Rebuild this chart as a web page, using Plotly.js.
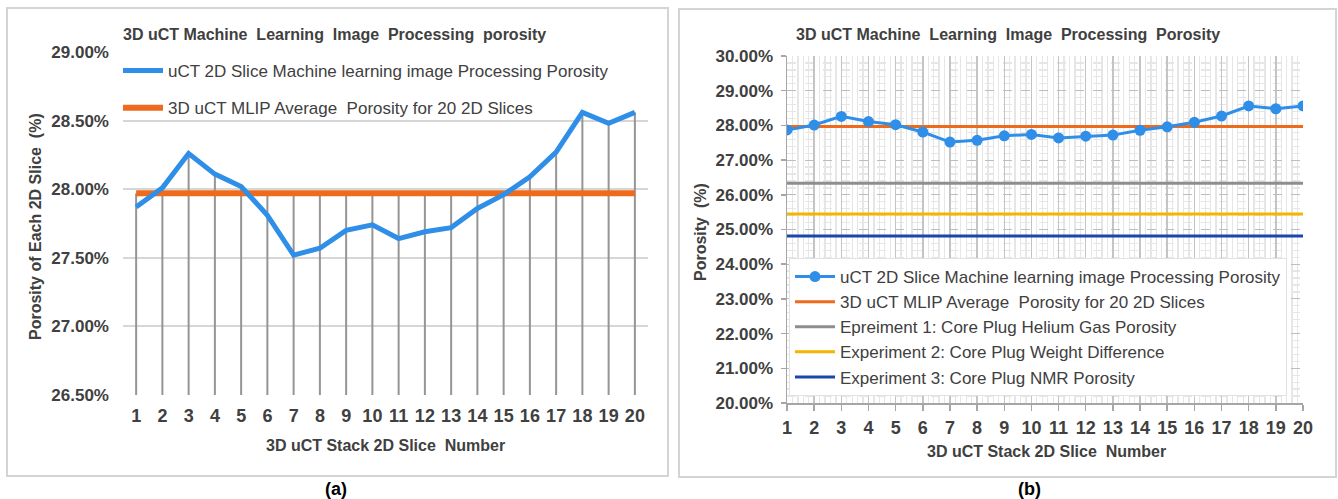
<!DOCTYPE html>
<html>
<head>
<meta charset="utf-8">
<script src="https://cdn.plot.ly/plotly-3.0.1.min.js"></script>
<style>
  html, body { margin: 0; padding: 0; background: #ffffff; }
  #chart { width: 1338px; height: 499px; }
</style>
</head>
<body>
<div id="chart"></div>
<script>
// ---------- data ----------
const slices = [1,2,3,4,5,6,7,8,9,10,11,12,13,14,15,16,17,18,19,20];
const slicePorosity = [27.87,28.01,28.26,28.11,28.02,27.81,27.52,27.57,27.70,27.74,
                       27.64,27.69,27.72,27.86,27.96,28.09,28.27,28.56,28.48,28.56];
const averagePorosity = 27.97;
const exp1HeliumPorosity = 26.33;
const exp2WeightDiffPorosity = 25.45;
const exp3NmrPorosity = 24.81;

const seriesNames = [
  "uCT 2D Slice Machine learning image Processing Porosity",
  "3D uCT MLIP Average  Porosity for 20 2D Slices",
  "Epreiment 1: Core Plug Helium Gas Porosity",
  "Experiment 2: Core Plug Weight Difference",
  "Experiment 3: Core Plug NMR Porosity"
];
const titleA = "3D uCT Machine  Learning  Image  Processing  porosity";
const titleB = "3D uCT Machine  Learning  Image  Processing  Porosity";
const xTitle = "3D uCT Stack 2D Slice  Number";
const yTitleA = "Porosity of Each 2D Slice  (%)";
const yTitleB = "Porosity  (%)";
const yRangeA = [26.5, 29.0];
const yRangeB = [20, 30];

// ---------- style ----------
const FONT = "Liberation Sans, Arial, sans-serif";
const TXT = "#404040";
const W = 1338, H = 499;
const px = v => v / W;
const py = v => 1 - v / H;

const C_BLUE = "#2F8FE8";
const C_ORANGE = "#EE6A1C";
const C_GREY = "#8E8E8E";
const C_GOLD = "#F5B400";
const C_NAVY = "#1A47AE";

const avgArr = slices.map(() => averagePorosity);
const lastX = slices[slices.length - 1];
const firstX = slices[0];

// drop lines (left chart): from axis bottom up to highest series value
const dropX = [], dropY = [];
slices.forEach((s, i) => {
  dropX.push(s, s, null);
  dropY.push(yRangeA[0], Math.max(slicePorosity[i], averagePorosity), null);
});

const traces = [
  // left chart
  { x: dropX, y: dropY, xaxis: "x", yaxis: "y", mode: "lines", showlegend: false,
    line: { color: "#959595", width: 2 }, hoverinfo: "skip" },
  { x: slices, y: avgArr, xaxis: "x", yaxis: "y", mode: "lines", name: seriesNames[1],
    legend: "legend", legendrank: 2, legendgroup: "a2",
    line: { color: C_ORANGE, width: 6 } },
  { x: slices, y: slicePorosity, xaxis: "x", yaxis: "y", mode: "lines", name: seriesNames[0],
    legend: "legend", legendrank: 1, legendgroup: "a1",
    line: { color: C_BLUE, width: 5 } },

  // right chart
  { x: [firstX, lastX], y: [exp1HeliumPorosity, exp1HeliumPorosity], xaxis: "x2", yaxis: "y2",
    mode: "lines", name: seriesNames[2], legend: "legend2", legendrank: 3,
    line: { color: C_GREY, width: 3 } },
  { x: [firstX, lastX], y: [exp2WeightDiffPorosity, exp2WeightDiffPorosity], xaxis: "x2", yaxis: "y2",
    mode: "lines", name: seriesNames[3], legend: "legend2", legendrank: 4,
    line: { color: C_GOLD, width: 3 } },
  { x: [firstX, lastX], y: [exp3NmrPorosity, exp3NmrPorosity], xaxis: "x2", yaxis: "y2",
    mode: "lines", name: seriesNames[4], legend: "legend2", legendrank: 5,
    line: { color: C_NAVY, width: 3 } },
  { x: slices, y: avgArr, xaxis: "x2", yaxis: "y2", mode: "lines", name: seriesNames[1],
    legend: "legend2", legendrank: 2,
    line: { color: C_ORANGE, width: 3 } },
  { x: slices, y: slicePorosity, xaxis: "x2", yaxis: "y2", mode: "lines+markers", name: seriesNames[0],
    legend: "legend2", legendrank: 1,
    line: { color: C_BLUE, width: 3 }, marker: { color: C_BLUE, size: 11 } }
];

const tickFontY = { family: FONT, size: 17, color: TXT, weight: "bold" };
const tickFontX = { family: FONT, size: 18, color: TXT, weight: "bold" };
const labelFont = { family: FONT, size: 16, color: TXT, weight: "bold" };

const layout = {
  width: W, height: H,
  margin: { l: 0, r: 0, t: 0, b: 0 },
  paper_bgcolor: "#ffffff", plot_bgcolor: "rgba(0,0,0,0)",
  font: { family: FONT, color: TXT },
  showlegend: true,
  xaxis: {
    domain: [px(123), px(648)], anchor: "y",
    range: [0.5, 20.5], tickvals: slices, ticktext: slices.map(String),
    showgrid: false, zeroline: false, showline: false, ticks: "",
    tickfont: tickFontX, ticklabelstandoff: 8
  },
  yaxis: {
    domain: [py(395), py(52)], anchor: "x",
    range: yRangeA, dtick: 0.5, tick0: 26.5,
    tickformat: ".2f", ticksuffix: "%",
    showgrid: true, gridcolor: "#d6d6d6", gridwidth: 2,
    zeroline: false, showline: false, ticks: "",
    tickfont: tickFontY, ticklabelstandoff: 13
  },
  xaxis2: {
    domain: [px(787), px(1303)], anchor: "y2",
    range: [1, 20], tickvals: slices, ticktext: slices.map(String),
    showgrid: true, gridcolor: "#c4c4c4", gridwidth: 1.5,
    minor: { dtick: 0.2, showgrid: true, gridcolor: "#e6e6e6", gridwidth: 1.3 },
    zeroline: false, showline: true, linecolor: "#a6a6a6", linewidth: 1.5,
    ticks: "outside", ticklen: 6, tickcolor: "#a6a6a6", tickwidth: 1.5,
    tickfont: tickFontX, ticklabelstandoff: 2
  },
  yaxis2: {
    domain: [py(403), py(56)], anchor: "x2",
    range: yRangeB, dtick: 1, tick0: 20,
    tickformat: ".2f", ticksuffix: "%",
    showgrid: true, gridcolor: "#bdbdbd", gridwidth: 1.2, griddash: "dash",
    minor: { dtick: 0.2, showgrid: true, gridcolor: "#e6e6e6", gridwidth: 1.3 },
    zeroline: false, showline: true, linecolor: "#a6a6a6", linewidth: 1.5,
    ticks: "outside", ticklen: 5, tickcolor: "#a6a6a6", tickwidth: 1.5,
    tickfont: tickFontY, ticklabelstandoff: 4
  },
  legend: {
    x: px(118), y: py(53), xanchor: "left", yanchor: "top",
    bgcolor: "rgba(0,0,0,0)", borderwidth: 0,
    traceorder: "grouped", tracegroupgap: 12,
    font: { family: FONT, size: 17, color: TXT },
    itemwidth: 40
  },
  legend2: {
    x: px(789), y: py(258), xanchor: "left", yanchor: "top",
    bgcolor: "#ffffff", bordercolor: "#e2e2e2", borderwidth: 1,
    traceorder: "normal",
    font: { family: FONT, size: 17, color: TXT },
    itemwidth: 40
  },
  annotations: [
    { text: titleA, xref: "paper", yref: "paper", x: px(121), y: py(35), xanchor: "left", yanchor: "middle",
      showarrow: false, font: labelFont },
    { text: titleB, xref: "paper", yref: "paper", x: px(794), y: py(35), xanchor: "left", yanchor: "middle",
      showarrow: false, font: labelFont },
    { text: xTitle, xref: "paper", yref: "paper", x: px(385), y: py(445), xanchor: "center", yanchor: "middle",
      showarrow: false, font: labelFont },
    { text: xTitle, xref: "paper", yref: "paper", x: px(1046), y: py(451), xanchor: "center", yanchor: "middle",
      showarrow: false, font: labelFont },
    { text: yTitleA, xref: "paper", yref: "paper", x: px(35), y: py(227), xanchor: "center", yanchor: "middle",
      textangle: -90, showarrow: false, font: labelFont },
    { text: yTitleB, xref: "paper", yref: "paper", x: px(700), y: py(232), xanchor: "center", yanchor: "middle",
      textangle: -90, showarrow: false, font: labelFont },
    { text: "(a)", xref: "paper", yref: "paper", x: px(336), y: py(489), xanchor: "center", yanchor: "middle",
      showarrow: false, font: { family: FONT, size: 18, color: "#000000", weight: "bold" } },
    { text: "(b)", xref: "paper", yref: "paper", x: px(1029), y: py(489), xanchor: "center", yanchor: "middle",
      showarrow: false, font: { family: FONT, size: 18, color: "#000000", weight: "bold" } }
  ],
  shapes: [
    { type: "rect", xref: "paper", yref: "paper", x0: px(7), x1: px(668), y0: py(476), y1: py(8),
      line: { color: "#d4d4d4", width: 2 }, layer: "below" },
    { type: "rect", xref: "paper", yref: "paper", x0: px(679), x1: px(1336), y0: py(477), y1: py(9),
      line: { color: "#d4d4d4", width: 2 }, layer: "below" }
  ]
};

Plotly.newPlot("chart", traces, layout, { staticPlot: true, displayModeBar: false });
</script>
</body>
</html>
